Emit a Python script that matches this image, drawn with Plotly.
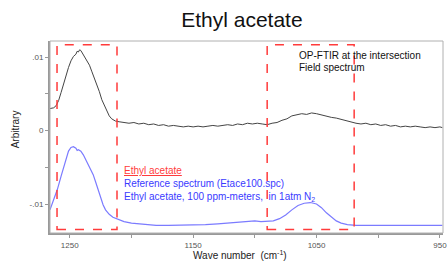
import plotly.graph_objects as go

field_wn = [1266, 1263, 1261, 1259, 1257, 1255, 1253, 1251, 1249, 1247, 1245, 1244, 1243, 1242, 1241, 1240,
            1238, 1236, 1234, 1232, 1230, 1228, 1226, 1224, 1222, 1220, 1218, 1216, 1213, 1210, 1206, 1202,
            1198, 1194, 1190, 1186, 1182, 1178, 1174, 1170, 1166, 1162, 1158, 1154, 1150, 1146, 1142, 1138,
            1134, 1130, 1126, 1122, 1118, 1114, 1110, 1106, 1102, 1098, 1094, 1090, 1086, 1082, 1078, 1074,
            1070, 1066, 1062, 1058, 1054, 1050, 1046, 1042, 1038, 1034, 1030, 1026, 1022, 1018, 1014, 1010,
            1006, 1002, 998, 994, 990, 986, 982, 978, 974, 970, 966, 962, 958, 954, 950, 948]
field_val = [0.0030, 0.0031, 0.0034, 0.0041, 0.0052, 0.0064, 0.0075, 0.0086, 0.0095, 0.0101, 0.0104, 0.0108,
             0.0107, 0.0110, 0.0109, 0.0106, 0.0102, 0.0096, 0.0089, 0.0080, 0.0071, 0.0063, 0.0053, 0.0042,
             0.0034, 0.0026, 0.0020, 0.0016, 0.0013, 0.0012, 0.0011, 0.0010, 0.0011, 0.0009, 0.0010, 0.0008,
             0.0009, 0.0007, 0.0008, 0.0006, 0.0007, 0.0006, 0.0005, 0.0006, 0.0005, 0.0006, 0.0005, 0.0006,
             0.0007, 0.0006, 0.0007, 0.0008, 0.0007, 0.0009, 0.0008, 0.0010, 0.0009, 0.0010, 0.0009, 0.0008,
             0.0010, 0.0011, 0.0014, 0.0016, 0.0020, 0.0021, 0.0023, 0.0022, 0.0024, 0.0023, 0.0021, 0.0020,
             0.0018, 0.0017, 0.0015, 0.0014, 0.0012, 0.0010, 0.0009, 0.0010, 0.0008, 0.0009, 0.0007, 0.0008,
             0.0006, 0.0007, 0.0005, 0.0006, 0.0005, 0.0006, 0.0005, 0.0004, 0.0005, 0.0004, 0.0005, 0.0004]

ref_wn = [1266, 1263, 1260, 1257, 1255, 1253, 1251, 1249, 1247, 1245, 1244, 1243, 1241, 1239, 1237, 1235,
          1233, 1231, 1229, 1227, 1225, 1223, 1221, 1218, 1215, 1211, 1206, 1200, 1190, 1180, 1170, 1160,
          1150, 1140, 1130, 1120, 1110, 1105, 1100, 1095, 1090, 1085, 1080, 1075, 1070, 1065, 1060, 1055,
          1050, 1046, 1042, 1038, 1034, 1030, 1025, 1018, 1010, 1000, 990, 980, 970, 960, 948]
ref_val = [-0.0108, -0.0095, -0.0080, -0.0062, -0.0050, -0.0038, -0.0028, -0.0023, -0.0022, -0.0024, -0.0027,
           -0.0026, -0.0028, -0.0033, -0.0040, -0.0046, -0.0052, -0.0060, -0.0070, -0.0081, -0.0092, -0.0101,
           -0.0108, -0.0114, -0.0118, -0.0121, -0.0124, -0.0126, -0.0128, -0.0129, -0.0129, -0.0129, -0.0129,
           -0.0128, -0.0127, -0.0126, -0.0124, -0.0124, -0.0123, -0.0124, -0.0124, -0.0123, -0.0120, -0.0115,
           -0.0108, -0.0102, -0.0099, -0.0098, -0.0100, -0.0105, -0.0112, -0.0118, -0.0123, -0.0126, -0.0128,
           -0.0129, -0.0129, -0.0128, -0.0129, -0.0129, -0.0129, -0.0129, -0.0129]

x_tickvals = [1250, 1150, 1050, 950]
x_ticktext = ["1250", "1150", "1050", "950"]
x_minor_ticks = [1200, 1100, 1000]
y_tickvals = [0.01, 0, -0.01]
y_ticktext = [".01", "0", "-.01"]
y_minor_ticks = [0.005, -0.005]

boxes = [(1260.3, 1211.7), (1090, 1019.5)]
box_y = (0.0117, -0.01347)

FONT = "Liberation Sans, Arial, sans-serif"

fig = go.Figure()
fig.add_trace(go.Scatter(x=field_wn, y=field_val, mode="lines",
                         line=dict(color="#444444", width=1), showlegend=False))
fig.add_trace(go.Scatter(x=ref_wn, y=ref_val, mode="lines",
                         line=dict(color="#7b7bff", width=1.2), showlegend=False))

for x0, x1 in boxes:
    fig.add_shape(type="rect", xref="x", yref="y", x0=x0, x1=x1, y0=box_y[1], y1=box_y[0],
                  line=dict(color="#ff3b3b", width=1.5, dash="dash"))

# frame
fig.add_shape(type="rect", xref="paper", yref="paper", x0=0, x1=1, y0=0, y1=1,
              line=dict(color="#b0b0b0", width=1))

ann = [
    dict(x=1065.7, y=0.0102, text="OP-FTIR at the intersection", color="#111111"),
    dict(x=1065.7, y=0.0086, text="Field spectrum", color="#111111"),
    dict(x=1207.6, y=-0.0054, text="<u>Ethyl acetate</u>", color="#ff3b3b"),
    dict(x=1207.6, y=-0.0072, text="Reference spectrum (Etace100.spc)", color="#3a3aff"),
    dict(x=1207.6, y=-0.0090, text="Ethyl acetate, 100 ppm-meters,  in 1atm N<sub>2</sub>", color="#3a3aff"),
]
for a in ann:
    fig.add_annotation(x=a["x"], y=a["y"], xref="x", yref="y", text=a["text"], showarrow=False,
                       xanchor="left", yanchor="middle",
                       font=dict(family=FONT, size=10, color=a["color"]))

# axis titles
fig.add_annotation(x=0.483, y=-0.112, xref="paper", yref="paper", text="Wave number  (cm<sup>-1</sup>)",
                   showarrow=False, xanchor="center", yanchor="middle",
                   font=dict(family=FONT, size=10, color="#222222"))
fig.add_annotation(x=-0.089, y=0.54, xref="paper", yref="paper", text="Arbitrary", textangle=-90,
                   showarrow=False, xanchor="center", yanchor="middle",
                   font=dict(family=FONT, size=10, color="#222222"))

fig.update_layout(
    width=448, height=261,
    margin=dict(l=50, r=5, t=41, b=28),
    paper_bgcolor="white", plot_bgcolor="white",
    title=dict(text="Ethyl acetate", x=0.54, xanchor="center", y=0.923, yanchor="middle",
               font=dict(family=FONT, size=21, color="#111111")),
    font=dict(family=FONT),
)
fig.update_xaxes(range=[1266, 947.5], tickvals=x_tickvals, ticktext=x_ticktext, automargin=False,
                 ticks="outside", ticklen=3, tickcolor="#999999", showgrid=False, zeroline=False,
                 showline=True, linecolor="#999999", linewidth=2,
                 minor=dict(tickvals=x_minor_ticks, ticks="outside", ticklen=3, tickcolor="#999999",
                            showgrid=False),
                 tickfont=dict(size=8, color="#555555"))
fig.update_yaxes(range=[-0.01395, 0.0122], tickvals=y_tickvals, ticktext=y_ticktext, automargin=False,
                 ticks="outside", ticklen=3, tickcolor="#999999", showgrid=False, zeroline=False,
                 showline=True, linecolor="#999999", linewidth=2,
                 minor=dict(tickvals=y_minor_ticks, ticks="outside", ticklen=3, tickcolor="#999999",
                            showgrid=False),
                 tickfont=dict(size=8, color="#555555"))

fig.write_html("out.html", config={"displayModeBar": False},
               post_script="document.body.style.margin='0';document.body.style.overflow='hidden';")
